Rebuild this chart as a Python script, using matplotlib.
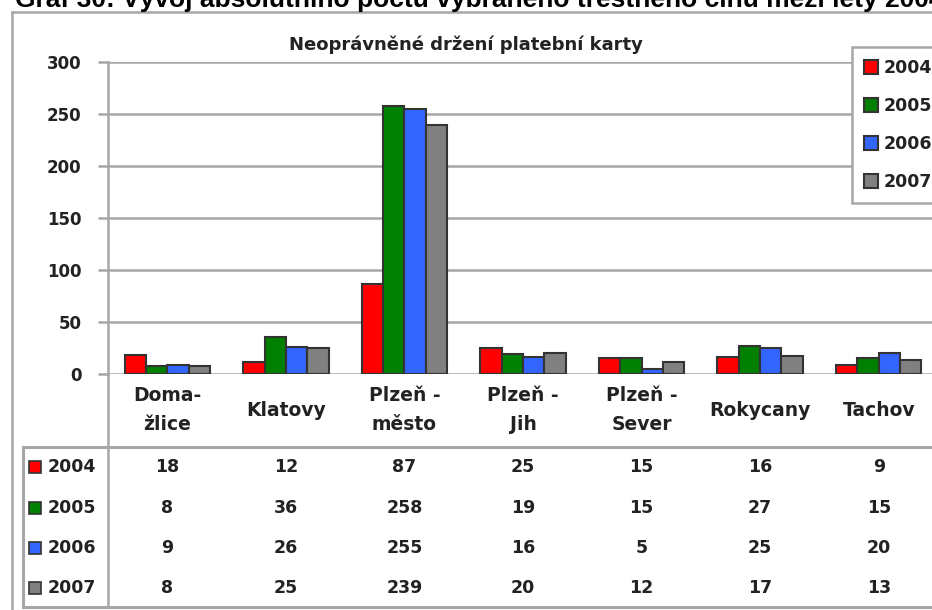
import matplotlib.pyplot as plt
from matplotlib.lines import Line2D
from matplotlib.patches import Rectangle
import numpy as np

categories = ["Doma-\nžlice", "Klatovy", "Plzeň -\nměsto", "Plzeň -\nJih", "Plzeň -\nSever", "Rokycany", "Tachov"]
years = ["2004", "2005", "2006", "2007"]
v2004 = [18, 12, 87, 25, 15, 16, 9]
v2005 = [8, 36, 258, 19, 15, 27, 15]
v2006 = [9, 26, 255, 16, 5, 25, 20]
v2007 = [8, 25, 239, 20, 12, 17, 13]
series = [v2004, v2005, v2006, v2007]
colors = ["#FF0000", "#008000", "#3366FF", "#808080"]

W, H = 932, 610
fig = plt.figure(figsize=(W / 100, H / 100), dpi=100)
plt.rcParams['font.family'] = ['DejaVu Sans']

def fx(x):
    return x / W

def fy(y):
    return 1 - y / H

ink = '#222222'
grey = '#A6A6A6'
num = dict(fontsize=12.5, fontweight='bold', color=ink)
word = dict(fontsize=13.5, fontweight='bold', color=ink)

# page caption, cut off at the top edge like in the screenshot
fig.text(fx(15), fy(7), "Graf 30: Vývoj absolutního počtu vybraného trestného činu mezi lety 2004 a 2007",
         fontsize=19, fontweight='bold', family='Liberation Sans', va='baseline', ha='left')

# outer border of the chart
fig.add_artist(Line2D([fx(12), fx(12)], [fy(12), fy(612)], color=grey, lw=1.8))
fig.add_artist(Line2D([fx(12), fx(940)], [fy(12), fy(12)], color=grey, lw=1.8))

fig.text(fx(466), fy(45), "Neoprávněné držení platební karty", ha='center', va='center',
         fontsize=13, fontweight='bold', color=ink)

# plot area (runs past the right edge like the original)
ax = fig.add_axes([fx(108), fy(374), 830 / W, (374 - 62) / H])
x = np.arange(len(categories))
bw = 0.18
for i, vals in enumerate(series):
    ax.bar(x + (i - 1.5) * bw, vals, bw, color=colors[i], edgecolor='#333333', lw=1.5,
           label=years[i], zorder=3)
ax.set_xlim(-0.5, len(categories) - 0.5)
ax.set_ylim(0, 300)
ax.set_yticks(range(0, 301, 50))
ax.set_xticks([])
ax.grid(axis='y', color=grey, lw=1.8, zorder=0)
for s in ['top', 'right', 'bottom']:
    ax.spines[s].set_visible(False)
ax.spines['left'].set_color(grey)
ax.spines['left'].set_linewidth(1.8)
ax.tick_params(axis='y', length=7, width=1.8, color=grey, pad=12, labelsize=12, labelcolor=ink)
for lab in ax.get_yticklabels():
    lab.set_fontweight('bold')

leg = ax.legend(loc='upper left', bbox_to_anchor=(fx(852), fy(47)), bbox_transform=fig.transFigure,
                borderaxespad=0, fancybox=False, edgecolor=grey, framealpha=1,
                prop={'size': 12.5, 'weight': 'bold'}, handlelength=0.8, handleheight=0.8,
                handletextpad=0.3, labelspacing=1.15, borderpad=0.7)
leg.get_frame().set_linewidth(1.8)
for t in leg.get_texts():
    t.set_color(ink)

# data table under the chart
xpix = ax.transData.transform(np.c_[x, np.zeros(len(x))])[:, 0]
for cx, name in zip(xpix, categories):
    fig.text(cx / W, fy(410), name, ha='center', va='center', linespacing=1.65, **word)

fig.add_artist(Line2D([fx(108), fx(108)], [fy(374), fy(607)], color=grey, lw=1.8))
fig.add_artist(Line2D([fx(23), fx(940)], [fy(447), fy(447)], color=grey, lw=2.2))
fig.add_artist(Line2D([fx(23), fx(23)], [fy(447), fy(607)], color=grey, lw=2.2))
fig.add_artist(Line2D([fx(23), fx(940)], [fy(607), fy(607)], color=grey, lw=2.2))

row_y = [467, 508, 548, 588]
for r, (yr, vals) in enumerate(zip(years, series)):
    yy = row_y[r]
    fig.add_artist(Rectangle((fx(29), fy(yy + 6)), 12 / W, 12 / H, facecolor=colors[r],
                             edgecolor='#333333', lw=1.2))
    fig.text(fx(48), fy(yy), yr, ha='left', va='center', **num)
    for cx, v in zip(xpix, vals):
        fig.text(cx / W, fy(yy), str(v), ha='center', va='center', **num)

fig.savefig("out.png", dpi=100)
